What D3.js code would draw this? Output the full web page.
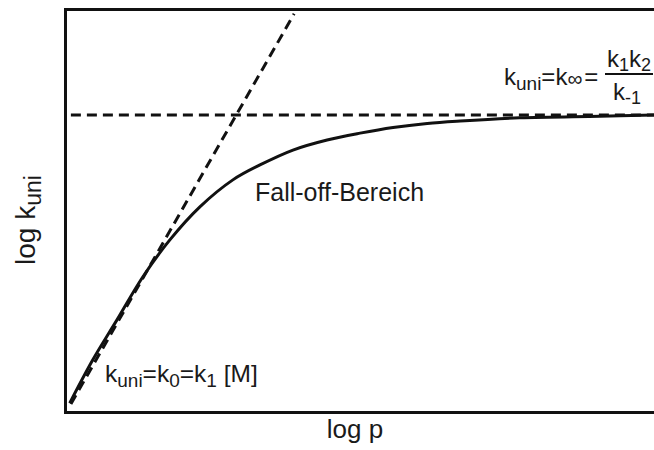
<!DOCTYPE html>
<html>
<head>
<meta charset="utf-8">
<script src="https://cdn.jsdelivr.net/npm/d3@7"></script>
<style>
  body { margin: 0; background: #fff; }
  text { font-family: "Liberation Sans", Arial, sans-serif; fill: #1a1a1a; }
</style>
</head>
<body>
<script>
const width = 654;
const height = 450;

// solid curve (arbitrary log units, 0..10 on both axes)
const curveLogP = [0.08, 0.47, 0.88, 1.32, 1.78, 2.29, 2.85, 3.31, 3.87, 4.45, 5.01, 5.57, 6.15, 6.71, 7.72, 9.08, 10];
const curveLogK = [0.22, 1.29, 2.28, 3.35, 4.27, 5.09, 5.76, 6.13, 6.50, 6.75, 6.92, 7.06, 7.16, 7.22, 7.30, 7.34, 7.37];

// low-pressure asymptote (dashed diagonal)
const lowLogP = [0.10, 3.89];
const lowLogK = [0.20, 9.88];

// high-pressure limit (dashed horizontal)
const highLogP = [0.1, 10];
const highLogK = [7.37, 7.37];

const margin = { top: 9, right: 0, bottom: 38, left: 65 };

const x = d3.scaleLinear().domain([0, 10]).range([margin.left, width - margin.right]);
const y = d3.scaleLinear().domain([0, 10]).range([height - margin.bottom, margin.top]);

const svg = d3.select("body")
  .append("svg")
  .attr("width", width)
  .attr("height", height);

// frame (no ticks, only the domain lines)
const frame = svg.append("g").attr("class", "frame");
frame.append("g")
  .attr("transform", `translate(0,${y(0)})`)
  .call(d3.axisBottom(x).tickValues([]).tickSizeOuter(0));
frame.append("g")
  .attr("transform", `translate(0,${y(10)})`)
  .call(d3.axisTop(x).tickValues([]).tickSizeOuter(0));
frame.append("g")
  .attr("transform", `translate(${x(0)},0)`)
  .call(d3.axisLeft(y).tickValues([]).tickSizeOuter(0));
frame.selectAll(".domain")
  .attr("stroke", "#111")
  .attr("stroke-width", 3)
  .attr("stroke-linecap", "square");

const line = d3.line()
  .x(d => x(d[0]))
  .y(d => y(d[1]));

// dashed asymptotes
svg.append("path")
  .attr("d", line(d3.zip(highLogP, highLogK)))
  .attr("fill", "none")
  .attr("stroke", "#111")
  .attr("stroke-width", 3)
  .attr("stroke-dasharray", "10,6");

svg.append("path")
  .attr("d", line(d3.zip(lowLogP, lowLogK)))
  .attr("fill", "none")
  .attr("stroke", "#111")
  .attr("stroke-width", 3)
  .attr("stroke-dasharray", "10,6");

// fall-off curve
svg.append("path")
  .attr("d", line.curve(d3.curveCatmullRom)(d3.zip(curveLogP, curveLogK)))
  .attr("fill", "none")
  .attr("stroke", "#111")
  .attr("stroke-width", 3);

// axis titles
svg.append("text")
  .attr("x", 355)
  .attr("y", 438)
  .attr("text-anchor", "middle")
  .attr("font-size", 26)
  .text("log p");

const yTitle = svg.append("text")
  .attr("transform", "translate(35,220) rotate(-90)")
  .attr("text-anchor", "middle")
  .attr("font-size", 28);
yTitle.append("tspan").text("log k");
yTitle.append("tspan").attr("font-size", 23).attr("dy", 6).text("uni");

// annotations
svg.append("text")
  .attr("x", 255)
  .attr("y", 201)
  .attr("font-size", 25)
  .text("Fall-off-Bereich");

const low = svg.append("text")
  .attr("x", 105)
  .attr("y", 382)
  .attr("font-size", 24.5);
low.append("tspan").text("k");
low.append("tspan").attr("font-size", 19).attr("dy", 5).text("uni");
low.append("tspan").attr("dy", -5).text("=k");
low.append("tspan").attr("font-size", 19).attr("dy", 5).text("0");
low.append("tspan").attr("dy", -5).text("=k");
low.append("tspan").attr("font-size", 19).attr("dy", 5).text("1");
low.append("tspan").attr("dy", -5).text(" [M]");

const high = svg.append("text")
  .attr("x", 504)
  .attr("y", 85)
  .attr("font-size", 24);
high.append("tspan").text("k");
high.append("tspan").attr("font-size", 19).attr("dy", 5).text("uni");
high.append("tspan").attr("dy", -5).text("=k");
high.append("tspan").attr("font-size", 21).attr("dy", 1).text("∞");
high.append("tspan").attr("dy", -1).attr("dx", 2).text("=");

const num = svg.append("text")
  .attr("x", 629)
  .attr("y", 67)
  .attr("text-anchor", "middle")
  .attr("font-size", 24);
num.append("tspan").text("k");
num.append("tspan").attr("font-size", 18).attr("dy", 4).text("1");
num.append("tspan").attr("dy", -4).text("k");
num.append("tspan").attr("font-size", 18).attr("dy", 4).text("2");

svg.append("line")
  .attr("x1", 605).attr("x2", 653)
  .attr("y1", 74).attr("y2", 74)
  .attr("stroke", "#111")
  .attr("stroke-width", 2);

const den = svg.append("text")
  .attr("x", 627)
  .attr("y", 100)
  .attr("text-anchor", "middle")
  .attr("font-size", 24);
den.append("tspan").text("k");
den.append("tspan").attr("font-size", 18).attr("dy", 4).text("-1");
</script>
</body>
</html>
